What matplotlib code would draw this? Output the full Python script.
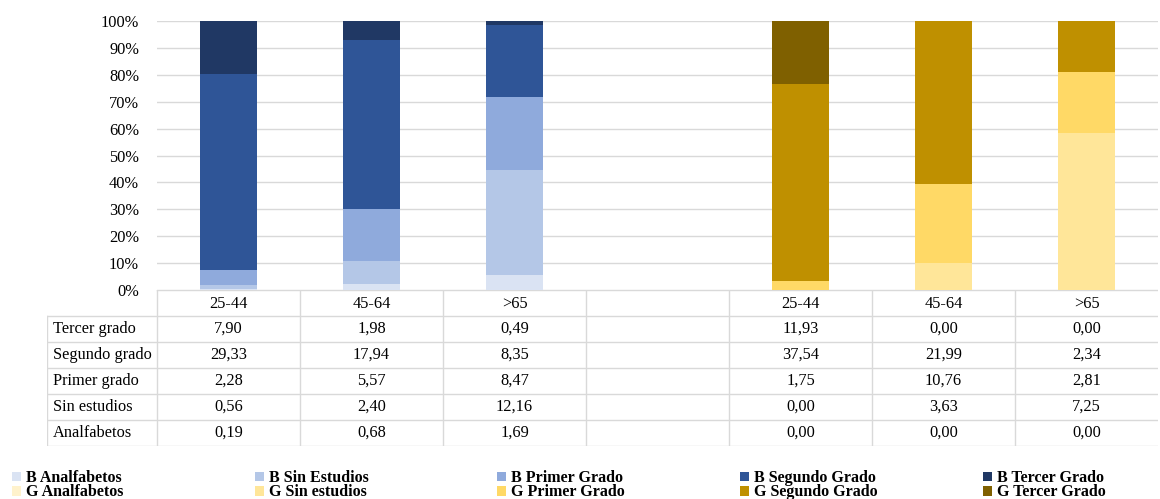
import numpy as np
import matplotlib.pyplot as plt

plt.rcParams['font.family'] = ['Liberation Serif', 'DejaVu Serif']

# Datos (valores de la tabla)
grupos = ['25-44', '45-64', '>65', '', '25-44', '45-64', '>65']
filas = ['Tercer grado', 'Segundo grado', 'Primer grado', 'Sin estudios', 'Analfabetos']

b_analfabetos = [0.19, 0.68, 1.69]
b_sin_estudios = [0.56, 2.40, 12.16]
b_primer = [2.28, 5.57, 8.47]
b_segundo = [29.33, 17.94, 8.35]
b_tercer = [7.90, 1.98, 0.49]

g_analfabetos = [0.00, 0.00, 0.00]
g_sin_estudios = [0.00, 3.63, 7.25]
g_primer = [1.75, 10.76, 2.81]
g_segundo = [37.54, 21.99, 2.34]
g_tercer = [11.93, 0.00, 0.00]

b_nombres = ['B Analfabetos', 'B Sin Estudios', 'B Primer Grado', 'B Segundo Grado', 'B Tercer Grado']
g_nombres = ['G Analfabetos', 'G Sin estudios', 'G Primer Grado', 'G Segundo Grado', 'G Tercer Grado']
b_colores = ['#DAE3F3', '#B4C7E7', '#8FAADC', '#2F5597', '#203864']
g_colores = ['#FFF2CC', '#FFE699', '#FFD966', '#BF9000', '#7F6000']

b_series = np.array([b_analfabetos, b_sin_estudios, b_primer, b_segundo, b_tercer])
g_series = np.array([g_analfabetos, g_sin_estudios, g_primer, g_segundo, g_tercer])

W, H = 1160, 499
fig = plt.figure(figsize=(W / 100, H / 100), dpi=100)
fs = 11.8

# zona del grafico
x0, x1 = 157, 1158
ytop, ybot = 21, 290
ax = fig.add_axes([x0 / W, 1 - ybot / H, (x1 - x0) / W, (ybot - ytop) / H])

b_pct = b_series / b_series.sum(axis=0) * 100
g_pct = g_series / g_series.sum(axis=0) * 100
xb = np.array([0, 1, 2])
xg = np.array([4, 5, 6])
ancho = 0.4

handles_b, handles_g = [], []
bottom = np.zeros(3)
for i in range(5):
    h = ax.bar(xb, b_pct[i], ancho, bottom=bottom, color=b_colores[i], label=b_nombres[i], zorder=3)
    handles_b.append(h)
    bottom += b_pct[i]
bottom = np.zeros(3)
for i in range(5):
    h = ax.bar(xg, g_pct[i], ancho, bottom=bottom, color=g_colores[i], label=g_nombres[i], zorder=3)
    handles_g.append(h)
    bottom += g_pct[i]

ax.set_xlim(-0.5, 6.5)
ax.set_ylim(0, 100)
ax.set_yticks(np.arange(0, 101, 10))
ax.set_yticklabels([f'{v}%' for v in range(0, 101, 10)], fontsize=fs)
ax.set_xticks([])
ax.grid(axis='y', color='#D9D9D9', linewidth=1, zorder=0)
for s in ax.spines.values():
    s.set_visible(False)
ax.tick_params(axis='y', length=0, pad=13)

# tabla de datos
tx0, ty0, ty1 = 47, 290, 446
tab = fig.add_axes([tx0 / W, 1 - ty1 / H, (x1 - tx0) / W, (ty1 - ty0) / H])
tab.set_xlim(tx0, x1)
tab.set_ylim(6, 0)
tab.axis('off')
col_w = (x1 - x0) / 7
col_edges = [x0 + k * col_w for k in range(8)]
lc = '#D9D9D9'
# lineas horizontales
tab.plot([x0, x1], [0, 0], color=lc, lw=1)
for r in range(1, 7):
    tab.plot([tx0, x1], [r, r], color=lc, lw=1)
# lineas verticales
tab.plot([tx0, tx0], [1, 6], color=lc, lw=1)
for e in col_edges[:-1]:
    tab.plot([e, e], [0, 6], color=lc, lw=1)

for c, g in enumerate(grupos):
    tab.text(col_edges[c] + col_w / 2, 0.55, g, ha='center', va='center', fontsize=fs)

b_tabla = [b_tercer, b_segundo, b_primer, b_sin_estudios, b_analfabetos]
g_tabla = [g_tercer, g_segundo, g_primer, g_sin_estudios, g_analfabetos]
for r, nombre in enumerate(filas):
    y = r + 1.5
    tab.text(tx0 + 6, y, nombre, ha='left', va='center', fontsize=fs)
    vals = list(b_tabla[r]) + [None] + list(g_tabla[r])
    for c, v in enumerate(vals):
        if v is None:
            continue
        tab.text(col_edges[c] + col_w / 2, y, f'{v:.2f}'.replace('.', ','),
                 ha='center', va='center', fontsize=fs)

# leyenda: una columna por nivel
leg_x = [12, 255, 497, 740, 983]
for i in range(5):
    leg = fig.legend([handles_b[i], handles_g[i]], [b_nombres[i], g_nombres[i]],
                     loc='upper left', bbox_to_anchor=(leg_x[i] / W, 1 - 470 / H),
                     frameon=False, prop={'size': 11.5, 'weight': 'bold'},
                     handlelength=0.55, handleheight=0.55, handletextpad=0.35,
                     labelspacing=-0.1, borderpad=0, borderaxespad=0)

fig.savefig('out.png', dpi=100)
